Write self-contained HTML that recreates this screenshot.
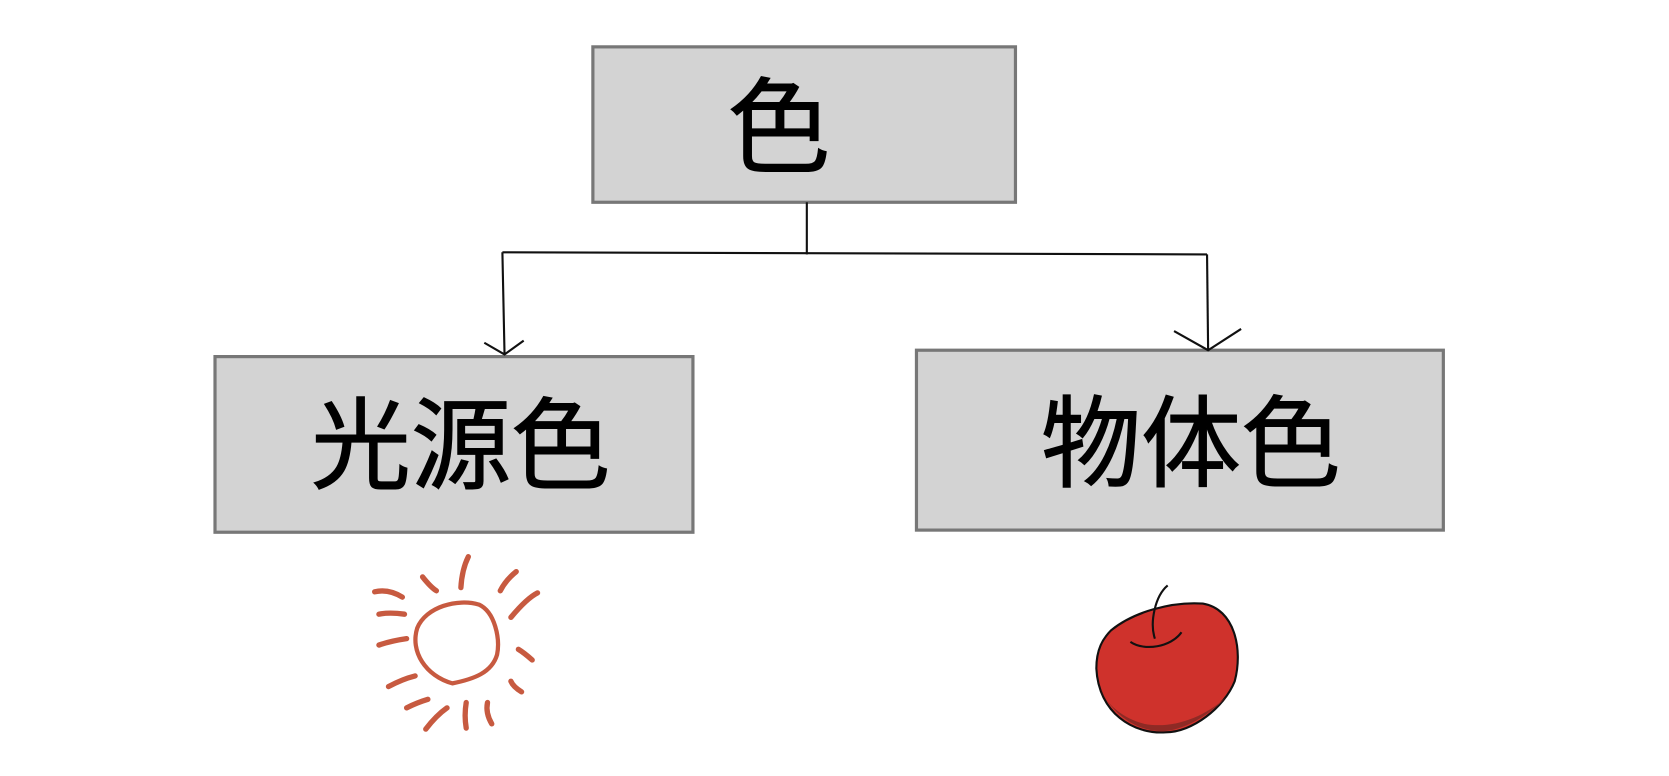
<!DOCTYPE html>
<html><head><meta charset="utf-8"><style>
body{margin:0;background:#fff;}
svg{display:block}
text{font-family:"Liberation Sans","Noto Sans CJK JP",sans-serif;fill:#000;stroke:#000;stroke-width:1;}
</style></head><body>
<svg width="1669" height="776" viewBox="0 0 1568 729" xmlns="http://www.w3.org/2000/svg">
<rect x="557" y="44" width="397" height="146" fill="#d3d3d3" stroke="#777" stroke-width="3"/>
<rect x="202" y="335" width="449" height="165" fill="#d3d3d3" stroke="#777" stroke-width="3"/>
<rect x="861" y="329" width="495" height="169" fill="#d3d3d3" stroke="#777" stroke-width="3"/>
<text x="732" y="154" font-size="97" text-anchor="middle">色</text>
<text x="433" y="452" font-size="94" text-anchor="middle">光源色</text>
<text x="1119" y="450" font-size="94" text-anchor="middle">物体色</text>
<g stroke="#111" stroke-width="2" fill="none">
<path d="M758 190 L758 239"/>
<path d="M472 237 L1134 239"/>
<path d="M472 237 L474 333"/>
<path d="M455 322 L474 333 L492 320"/>
<path d="M1134 239 L1135 328"/>
<path d="M1103 311 L1135 329 L1166 309"/>
</g>
<g stroke="#c75a40" stroke-linecap="round" fill="none">
<path d="M425 642 C400 635 385 612 392 590 C400 570 430 562 450 568 C465 575 470 600 467 615 C462 632 445 638 425 642" stroke-width="4"/>
<g stroke-width="5">
<path d="M352 556 Q365 553 378 561"/>
<path d="M356 577 Q366 575 380 577"/>
<path d="M356 606 Q368 602 382 600"/>
<path d="M365 645 Q378 638 390 635"/>
<path d="M382 665 Q392 660 402 657"/>
<path d="M400 685 Q410 672 420 665"/>
<path d="M438 684 Q436 672 438 660"/>
<path d="M462 680 Q456 670 458 660"/>
<path d="M490 650 Q482 645 480 640"/>
<path d="M500 620 Q492 613 487 610"/>
<path d="M480 580 Q495 562 505 557"/>
<path d="M470 555 Q475 545 485 537"/>
<path d="M433 552 Q434 535 440 523"/>
<path d="M397 542 Q405 552 410 555"/>
</g></g>
<g>
<path d="M1044 592 C1065 575 1100 565 1130 567 C1160 572 1168 610 1160 640 C1150 665 1120 688 1095 688 C1065 690 1032 670 1030 628 C1030 610 1036 600 1044 592 Z" fill="#cf322c" stroke="#111" stroke-width="2"/>
<path d="M1034 648 C1050 680 1080 690 1100 686 C1120 682 1140 668 1152 655 C1130 675 1100 685 1075 680 C1055 675 1040 662 1034 648 Z" fill="#8e2a25"/>
<path d="M1062 603 C1075 612 1100 608 1110 594" stroke="#111" stroke-width="2" fill="none"/>
<path d="M1097 550 C1085 560 1080 585 1085 600" stroke="#111" stroke-width="2" fill="none"/>
</g>
</svg>
</body></html>
